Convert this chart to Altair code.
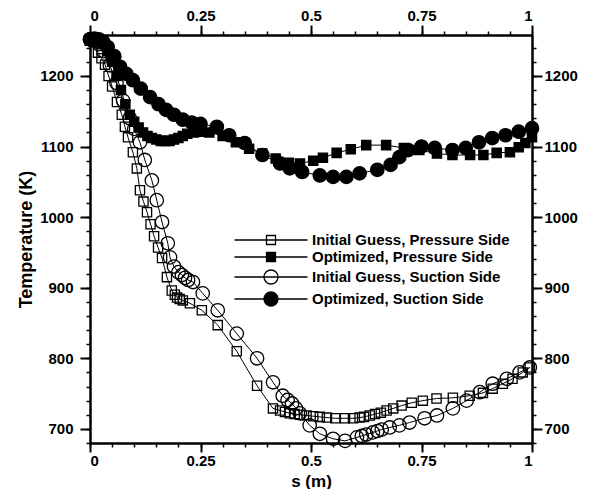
import altair as alt
import pandas as pd

series_names = [
    "Initial Guess, Pressure Side",
    "Optimized, Pressure Side",
    "Initial Guess, Suction Side",
    "Optimized, Suction Side",
]

# Initial guess, pressure side (open squares)
s_igp = [0.0, 0.008, 0.018, 0.026, 0.034, 0.042, 0.05, 0.061, 0.072, 0.079, 0.086, 0.097,
         0.106, 0.113, 0.121, 0.129, 0.137, 0.145, 0.154, 0.163, 0.174, 0.185, 0.192, 0.197,
         0.203, 0.21, 0.226, 0.253, 0.289, 0.332, 0.378, 0.414, 0.43, 0.441, 0.452, 0.463,
         0.475, 0.49, 0.505, 0.52, 0.536, 0.555, 0.577, 0.595, 0.61, 0.62, 0.633, 0.645,
         0.658, 0.671, 0.686, 0.705, 0.728, 0.753, 0.784, 0.821, 0.859, 0.889, 0.911, 0.934,
         0.956, 0.979, 0.995]
t_igp = [1250, 1248, 1233, 1225, 1216, 1200, 1185, 1163, 1145, 1128, 1113, 1092,
         1069, 1038, 1022, 1007, 990, 973, 957, 942, 915, 896, 890, 886,
         884, 882, 878, 868, 847, 810, 761, 729, 726, 724, 722, 721,
         720, 719, 718, 717, 716, 715, 715, 715, 716, 717, 719, 721,
         723, 726, 729, 733, 737, 740, 743, 744, 747, 751, 757, 764,
         771, 780, 787]

# Optimized, pressure side (filled squares)
s_op = [0.0, 0.01, 0.02, 0.03, 0.04, 0.05, 0.06, 0.07, 0.08, 0.09, 0.1, 0.11, 0.12, 0.13,
        0.14, 0.15, 0.16, 0.17, 0.18, 0.19, 0.2, 0.21, 0.22, 0.235, 0.25, 0.27, 0.3, 0.33,
        0.36, 0.39, 0.42, 0.45, 0.475, 0.505, 0.527, 0.558, 0.59, 0.625, 0.67, 0.71, 0.745,
        0.785, 0.82, 0.86, 0.89, 0.92, 0.95, 0.97, 0.985, 1.0]
t_op = [1250, 1252, 1250, 1245, 1235, 1220, 1200, 1180, 1160, 1145, 1135, 1127, 1120, 1115,
        1112, 1110, 1108, 1108, 1108, 1110, 1112, 1115, 1118, 1120, 1121, 1120, 1115, 1106,
        1097, 1090, 1083, 1077, 1076, 1080, 1084, 1091, 1096, 1102, 1102, 1098, 1095,
        1090, 1088, 1088, 1088, 1091, 1092, 1099, 1105, 1113]

# Initial guess, suction side (open circles)
s_igs = [0.0, 0.01, 0.02, 0.03, 0.045, 0.06, 0.075, 0.09, 0.1, 0.113, 0.124, 0.14, 0.151,
         0.163, 0.176, 0.181, 0.19, 0.2, 0.208, 0.215, 0.222, 0.233, 0.255, 0.289, 0.332,
         0.378, 0.414, 0.436, 0.447, 0.457, 0.466, 0.475, 0.497, 0.52, 0.55, 0.577, 0.604,
         0.615, 0.625, 0.64, 0.65, 0.66, 0.678, 0.7, 0.723, 0.757, 0.785, 0.821, 0.852,
         0.882, 0.911, 0.943, 0.972, 0.995]
t_igs = [1252, 1250, 1245, 1235, 1215, 1190, 1165, 1140, 1125, 1106, 1081, 1052, 1024,
         993, 963, 943, 930, 922, 918, 914, 911, 908, 892, 868, 835,
         800, 766, 747, 741, 736, 729, 722, 705, 693, 686, 683, 688,
         690, 692, 695, 697, 699, 702, 705, 709, 715, 719, 729, 740,
         752, 764, 771, 780, 787]

# Optimized, suction side (filled circles)
s_os = [0.0, 0.01, 0.02, 0.03, 0.04, 0.055, 0.068, 0.082, 0.097, 0.115, 0.136, 0.155, 0.172,
        0.19, 0.21, 0.23, 0.25, 0.287, 0.315, 0.35, 0.39, 0.43, 0.452, 0.48, 0.52, 0.55,
        0.58, 0.61, 0.65, 0.68, 0.7, 0.72, 0.75, 0.78, 0.82, 0.85, 0.88, 0.91, 0.94, 0.97, 1.0]
t_os = [1252, 1253, 1252, 1248, 1241, 1228, 1213, 1203, 1194, 1182, 1170, 1160, 1152,
        1145, 1138, 1134, 1132, 1128, 1116, 1105, 1088, 1076, 1069, 1064, 1059, 1057,
        1057, 1062, 1067, 1074, 1085, 1095, 1100, 1098, 1095, 1098, 1106, 1112, 1116, 1121, 1126]

x_major = [0, 0.25, 0.5, 0.75, 1]
x_minor = [round(i * 0.05, 2) for i in range(21)]
y_major = [700, 800, 900, 1000, 1100, 1200]
y_minor = list(range(680, 1260, 20))

rows = []
for name, ss, tt in zip(series_names, [s_igp, s_op, s_igs, s_os], [t_igp, t_op, t_igs, t_os]):
    for a, b in zip(ss, tt):
        rows.append({"series": name, "s": a, "T": b})
df = pd.DataFrame(rows)

FONT = "Liberation Sans"
LABEL = "'' + datum.value"
xscale = alt.Scale(domain=[0, 1], nice=False, zero=False)
yscale = alt.Scale(domain=[680, 1258], nice=False, zero=False)

sq_path = "M-7.3,0H7.3M-0.9,-0.9H0.9V0.9H-0.9Z"
ci_path = "M-7.3,0H7.3M-1.4,0A1.4,1.4,0,1,0,1.4,0A1.4,1.4,0,1,0,-1.4,0Z"
shape_expr = "indexof(datum.value, 'Pressure') >= 0 ? '%s' : '%s'" % (sq_path, ci_path)

leg = alt.Legend(
    orient="none", legendX=173.5, legendY=197.5, title=None, padding=0,
    labelFont=FONT, labelFontSize=15, labelFontWeight="bold", labelColor="black",
    labelOffset=33.5, labelLimit=400, symbolSize=100, symbolStrokeWidth=1.3,
    symbolStrokeColor="black", rowPadding=1,
    symbolType={"expr": shape_expr},
)
fill_enc = alt.Fill(
    "series:N",
    scale=alt.Scale(domain=series_names, range=["transparent", "black", "transparent", "black"]),
    legend=leg,
)

base = alt.Chart(df)

lines = base.mark_line(color="black", strokeWidth=1).encode(
    x=alt.X("s:Q", scale=xscale, axis=alt.Axis(
        orient="bottom", values=x_major, labelExpr=LABEL, title="s (m)",
        tickSize=9, labelPadding=1, titleX=221, titleY=38, titleFontSize=17,
        titleAlign="center", titleBaseline="middle")),
    y=alt.Y("T:Q", scale=yscale, axis=alt.Axis(
        orient="left", values=y_major, labelExpr=LABEL, title="Temperature (K)",
        tickSize=10, labelPadding=7, titleX=-64, titleY=204, titleAngle=270,
        titleAlign="center", titleBaseline="middle")),
    detail="series:N",
)

squares = base.transform_filter(
    "indexof(datum.series, 'Pressure') >= 0"
).mark_point(shape="square", size=85, filled=True, stroke="black", strokeWidth=1.3, opacity=1).encode(
    x=alt.X("s:Q", scale=xscale, axis=alt.Axis(
        orient="top", values=x_major, labelExpr=LABEL, title=None, tickSize=10, labelPadding=2)),
    y=alt.Y("T:Q", scale=yscale, axis=alt.Axis(
        orient="right", values=y_major, labelExpr=LABEL, title=None, tickSize=10, labelPadding=2)),
    fill=fill_enc,
)

circles = base.transform_filter(
    "indexof(datum.series, 'Suction') >= 0"
).mark_point(shape="circle", size=180, filled=True, stroke="black", strokeWidth=1.3, opacity=1).encode(
    x=alt.X("s:Q", scale=xscale, axis=alt.Axis(
        orient="bottom", values=x_minor, labels=False, domain=False, title=None,
        tickSize=4, tickWidth=1.5)),
    y=alt.Y("T:Q", scale=yscale, axis=alt.Axis(
        orient="left", values=y_minor, labels=False, domain=False, title=None,
        tickSize=4, tickWidth=1.5)),
    fill=fill_enc,
)

ghost = base.mark_point(opacity=0).encode(
    x=alt.X("s:Q", scale=xscale, axis=alt.Axis(
        orient="top", values=x_minor, labels=False, domain=False, title=None,
        tickSize=4, tickWidth=1.5)),
    y=alt.Y("T:Q", scale=yscale, axis=alt.Axis(
        orient="right", values=y_minor, labels=False, domain=False, title=None,
        tickSize=4, tickWidth=1.5)),
)

chart = alt.layer(lines, squares, circles, ghost).resolve_axis(
    x="independent", y="independent"
).properties(
    width=442, height=408, autosize="none",
    padding={"left": 82, "top": 27, "right": 62, "bottom": 46},
    background="white",
).configure_view(stroke=None).configure_axis(
    labelFont=FONT, labelFontSize=15, labelFontWeight="bold", labelColor="black",
    titleFont=FONT, titleFontSize=18, titleFontWeight="bold", titleColor="black",
    domainColor="black", domainWidth=2.5, tickColor="black", tickWidth=2, grid=False,
)

chart.save("out.html", embed_options={"renderer": "svg", "actions": False})
